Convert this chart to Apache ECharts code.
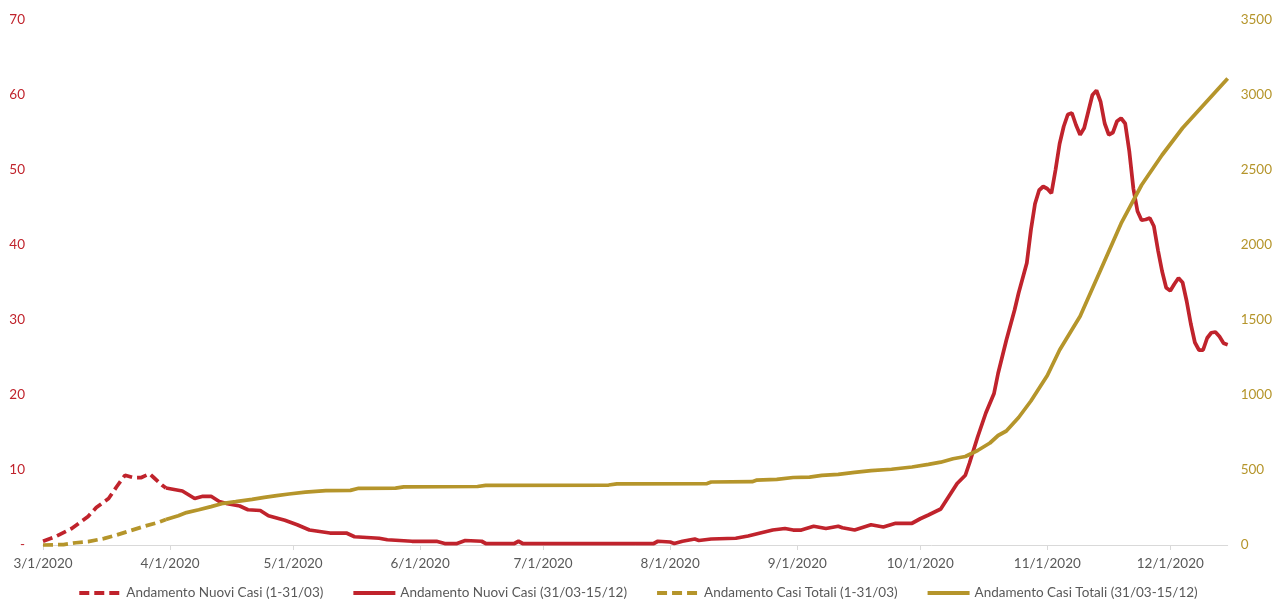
<!DOCTYPE html>
<html>
<head>
<meta charset="utf-8">
<script src="https://cdn.jsdelivr.net/npm/echarts@6/dist/echarts.min.js"></script>
<style>
html,body{margin:0;padding:0;background:#fff;}
#chart{width:1275px;height:605px;}
</style>
</head>
<body>
<div id="chart"></div>
<script>
// ---- Data ----
var seriesNames = [
  'Andamento Nuovi Casi (1-31/03)',
  'Andamento Nuovi Casi (31/03-15/12)',
  'Andamento Casi Totali (1-31/03)',
  'Andamento Casi Totali (31/03-15/12)'
];

var monthTicks = ['2020-03-01','2020-04-01','2020-05-01','2020-06-01','2020-07-01','2020-08-01','2020-09-01','2020-10-01','2020-11-01','2020-12-01'];
var monthLabels = ['3/1/2020','4/1/2020','5/1/2020','6/1/2020','7/1/2020','8/1/2020','9/1/2020','10/1/2020','11/1/2020','12/1/2020'];
var firstDate = '2020-03-01';
var lastDate = '2020-12-15';

// New cases, March (dashed)
var newMarDates = ['2020-03-01','2020-03-04','2020-03-08','2020-03-12','2020-03-14','2020-03-17','2020-03-19','2020-03-21','2020-03-23','2020-03-25','2020-03-27','2020-03-28','2020-03-30','2020-03-31'];
var newMarVals  = [0.5,1.1,2.2,3.8,5.0,6.2,7.8,9.3,9.0,9.0,9.5,9.0,8.0,7.6];

// New cases, 31/03 - 15/12 (solid)
var newDates = ['2020-03-31','2020-04-02','2020-04-04','2020-04-07','2020-04-09','2020-04-11','2020-04-13','2020-04-15','2020-04-18','2020-04-20','2020-04-23','2020-04-25','2020-04-29',
  '2020-05-02','2020-05-05','2020-05-10','2020-05-14','2020-05-16','2020-05-22','2020-05-24','2020-05-30',
  '2020-06-05','2020-06-07','2020-06-10','2020-06-12','2020-06-16','2020-06-17','2020-06-24','2020-06-25','2020-06-26',
  '2020-07-28','2020-07-29','2020-08-01','2020-08-02','2020-08-04','2020-08-07','2020-08-08','2020-08-11','2020-08-17','2020-08-20','2020-08-23','2020-08-26','2020-08-29','2020-08-31',
  '2020-09-02','2020-09-05','2020-09-08','2020-09-11','2020-09-12','2020-09-15','2020-09-19','2020-09-22','2020-09-25','2020-09-29',
  '2020-10-01','2020-10-03','2020-10-06','2020-10-08','2020-10-10','2020-10-12','2020-10-13','2020-10-15','2020-10-17','2020-10-19','2020-10-20','2020-10-22','2020-10-24','2020-10-25','2020-10-27','2020-10-28','2020-10-29','2020-10-30','2020-10-31',
  '2020-11-01','2020-11-02','2020-11-03','2020-11-04','2020-11-05','2020-11-06','2020-11-07','2020-11-08','2020-11-09','2020-11-10','2020-11-11','2020-11-12','2020-11-13','2020-11-14','2020-11-15','2020-11-16','2020-11-17','2020-11-18','2020-11-19','2020-11-20','2020-11-21','2020-11-22','2020-11-23','2020-11-24','2020-11-25','2020-11-26','2020-11-27','2020-11-28','2020-11-29','2020-11-30',
  '2020-12-01','2020-12-02','2020-12-03','2020-12-04','2020-12-05','2020-12-06','2020-12-07','2020-12-08','2020-12-09','2020-12-10','2020-12-11','2020-12-12','2020-12-13','2020-12-14','2020-12-15'];
var newVals = [7.6,7.4,7.2,6.2,6.5,6.5,5.8,5.5,5.2,4.7,4.6,3.9,3.3,
  2.7,2.0,1.6,1.6,1.1,0.9,0.7,0.5,
  0.5,0.2,0.2,0.6,0.5,0.2,0.2,0.5,0.2,
  0.2,0.5,0.4,0.2,0.5,0.8,0.6,0.8,0.9,1.2,1.6,2.0,2.2,2.0,
  2.0,2.5,2.2,2.5,2.3,2.0,2.7,2.4,2.9,2.9,
  3.5,4.0,4.8,6.5,8.2,9.3,10.9,14.4,17.6,20.2,22.9,27.3,31.3,33.6,37.6,42.0,45.5,47.3,47.8,
  47.5,46.9,50.0,53.5,55.8,57.4,57.6,56.0,54.7,55.6,57.8,60.0,60.6,59.1,56.2,54.7,55.0,56.5,56.9,56.2,52.5,47.5,44.5,43.3,43.4,43.6,42.5,39.3,36.5,34.3,
  33.9,34.8,35.6,35.0,32.5,29.5,27.0,26.0,26.0,27.6,28.3,28.4,27.8,26.9,26.7];

// Total cases, March (dashed)
var totMarDates = ['2020-03-01','2020-03-06','2020-03-09','2020-03-12','2020-03-16','2020-03-19','2020-03-22','2020-03-26','2020-03-29','2020-03-31'];
var totMarVals  = [0,3,15,22,44,67,93,127,150,170];

// Total cases, 31/03 - 15/12 (solid)
var totDates = ['2020-03-31','2020-04-03','2020-04-05','2020-04-08','2020-04-11','2020-04-14','2020-04-17','2020-04-21','2020-04-24','2020-04-27','2020-04-30',
  '2020-05-04','2020-05-09','2020-05-15','2020-05-17','2020-05-26','2020-05-28','2020-06-15','2020-06-17','2020-07-17','2020-07-19',
  '2020-08-10','2020-08-11','2020-08-21','2020-08-22','2020-08-27','2020-08-31','2020-09-04','2020-09-07','2020-09-11','2020-09-15','2020-09-19','2020-09-24','2020-09-29',
  '2020-10-03','2020-10-06','2020-10-09','2020-10-12','2020-10-15','2020-10-18','2020-10-20','2020-10-22','2020-10-25','2020-10-28',
  '2020-11-01','2020-11-04','2020-11-09','2020-11-14','2020-11-19','2020-11-24','2020-11-29','2020-12-04','2020-12-09','2020-12-15'];
var totVals = [170,195,216,235,256,278,289,304,318,329,340,
  352,362,364,378,379,388,390,398,400,408,
  410,420,422,432,438,450,452,464,471,484,496,505,520,
  538,552,575,590,630,680,730,760,850,960,
  1130,1300,1525,1833,2144,2400,2600,2780,2930,3110];

// ---- Chart ----
var RED = '#C0232C';
var GOLD = '#B5952B';
var FONT = 'Lato';

function ts(s){ var p = s.split('-'); return Date.UTC(+p[0], +p[1]-1, +p[2]); }
function pairs(d, v){ return d.map(function(x,i){ return [ts(x), v[i]]; }); }

var tickValues = monthTicks.map(ts);
var labelMap = {};
tickValues.forEach(function(t,i){ labelMap[t] = monthLabels[i]; });

var chart = echarts.init(document.getElementById('chart'), null, {renderer:'canvas'});
chart.setOption({
  animation: false,
  backgroundColor: '#ffffff',
  textStyle: {fontFamily: FONT},
  grid: {left: 43, right: 46, top: 20, bottom: 60, containLabel: false},
  legend: {
    bottom: 0,
    left: 'center',
    itemWidth: 42,
    itemHeight: 14,
    itemGap: 28,
    itemStyle: {opacity: 0, borderWidth: 0},
    lineStyle: {width: 4},
    textStyle: {fontFamily: FONT, fontSize: 13.5, color: '#595959'},
    data: seriesNames
  },
  xAxis: {
    type: 'value',
    min: ts(firstDate),
    max: ts(lastDate),
    axisLine: {show: true, lineStyle: {color: '#D9D9D9', width: 1}},
    axisTick: {show: true, customValues: tickValues, length: 5, lineStyle: {color: '#D9D9D9'}},
    splitLine: {show: false},
    axisLabel: {
      customValues: tickValues,
      formatter: function(v){ return labelMap[v] || ''; },
      fontFamily: FONT, fontSize: 13.5, color: '#595959', margin: 12
    }
  },
  yAxis: [
    {
      type: 'value', min: 0, max: 70, interval: 10,
      axisLine: {show: false}, axisTick: {show: false}, splitLine: {show: false},
      axisLabel: {
        formatter: function(v){ return v === 0 ? '-' : String(v); },
        fontFamily: FONT, fontSize: 13.5, color: RED, margin: 18
      }
    },
    {
      type: 'value', min: 0, max: 3500, interval: 500,
      axisLine: {show: false}, axisTick: {show: false}, splitLine: {show: false},
      axisLabel: {
        formatter: function(v){ return String(v); },
        fontFamily: FONT, fontSize: 13.5, color: GOLD, margin: 13
      }
    }
  ],
  series: [
    {name: seriesNames[0], type: 'line', yAxisIndex: 0, symbol: 'none', data: pairs(newMarDates, newMarVals),
     lineStyle: {color: RED, width: 3.75, type: [10,5]}, itemStyle: {color: RED}, z: 2},
    {name: seriesNames[1], type: 'line', yAxisIndex: 0, symbol: 'none', data: pairs(newDates, newVals),
     lineStyle: {color: RED, width: 3.75}, itemStyle: {color: RED}, z: 2},
    {name: seriesNames[2], type: 'line', yAxisIndex: 1, symbol: 'none', data: pairs(totMarDates, totMarVals),
     lineStyle: {color: GOLD, width: 3.75, type: [10,5]}, itemStyle: {color: GOLD}, z: 3},
    {name: seriesNames[3], type: 'line', yAxisIndex: 1, symbol: 'none', data: pairs(totDates, totVals),
     lineStyle: {color: GOLD, width: 3.75}, itemStyle: {color: GOLD}, z: 3}
  ]
});
</script>
</body>
</html>
